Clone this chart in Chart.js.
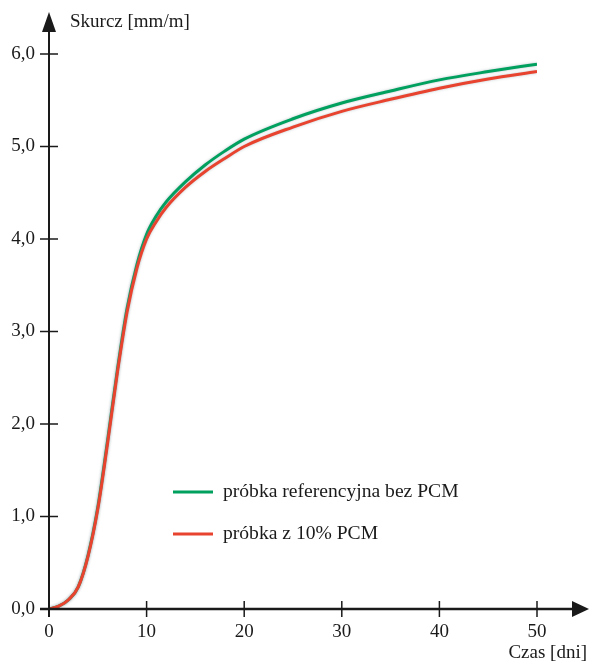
<!DOCTYPE html>
<html>
<head>
<meta charset="utf-8">
<script src="https://cdn.jsdelivr.net/npm/chart.js@4"></script>
<style>
    body { margin: 0; background: #ffffff; }
    #box { width: 592px; height: 670px; }
</style>
</head>
<body>
<div id="box"><canvas id="chart" width="592" height="670"></canvas></div>
<script>
// Data
const days = [0, 1, 2, 3, 4, 5, 6, 7, 8, 9, 10, 11, 12, 14, 16, 18, 20, 25, 30, 35, 40, 45, 50];
const refValues = [0, 0.03, 0.1, 0.24, 0.58, 1.1, 1.82, 2.58, 3.25, 3.72, 4.05, 4.25, 4.4, 4.62, 4.8, 4.95, 5.08, 5.3, 5.47, 5.6, 5.72, 5.81, 5.89];
const pcmValues = [0, 0.03, 0.1, 0.24, 0.57, 1.08, 1.79, 2.55, 3.21, 3.68, 4.0, 4.19, 4.34, 4.56, 4.73, 4.87, 5.0, 5.21, 5.38, 5.51, 5.63, 5.73, 5.81];
const seriesNames = ["próbka referencyjna bez PCM", "próbka z 10% PCM"];
const seriesColors = ["#00a05f", "#e8432e"];
const yTitle = "Skurcz [mm/m]";
const xTitle = "Czas [dni]";

const font = "Liberation Serif";

// Make xy pairs for the linear x scale
function toPoints(xs, ys) {
    return xs.map((x, i) => ({ x: x, y: ys[i] }));
}

// Axes, arrows, crossing ticks, titles and legend
const axesPlugin = {
    id: "axesPlugin",
    beforeDatasetsDraw(chart) {
        const ctx = chart.ctx;
        ctx.save();
        ctx.shadowColor = "rgba(110, 130, 140, 0.45)";
        ctx.shadowBlur = 3;
    },
    afterDatasetsDraw(chart) {
        chart.ctx.restore();
    },
    afterDraw(chart) {
        const ctx = chart.ctx;
        const xs = chart.scales.x;
        const ys = chart.scales.y;
        const x0 = xs.getPixelForValue(0);
        const y0 = ys.getPixelForValue(0);

        ctx.save();
        ctx.strokeStyle = "#1a1a1a";
        ctx.fillStyle = "#1a1a1a";

        // y axis
        ctx.lineWidth = 2;
        ctx.beginPath();
        ctx.moveTo(x0, y0 + 8);
        ctx.lineTo(x0, 30);
        ctx.stroke();
        ctx.beginPath();
        ctx.moveTo(x0, 12);
        ctx.lineTo(x0 - 7, 32);
        ctx.lineTo(x0 + 7, 32);
        ctx.closePath();
        ctx.fill();

        // x axis
        ctx.lineWidth = 2.5;
        ctx.beginPath();
        ctx.moveTo(x0 - 9, y0);
        ctx.lineTo(575, y0);
        ctx.stroke();
        ctx.beginPath();
        ctx.moveTo(589, y0);
        ctx.lineTo(572, y0 - 8);
        ctx.lineTo(572, y0 + 8);
        ctx.closePath();
        ctx.fill();

        // crossing ticks
        ctx.lineWidth = 1.5;
        ys.ticks.forEach((t) => {
            const p = ys.getPixelForValue(t.value);
            ctx.beginPath();
            ctx.moveTo(x0 - 9, p);
            ctx.lineTo(x0 + 9, p);
            ctx.stroke();
        });
        xs.ticks.forEach((t) => {
            const p = xs.getPixelForValue(t.value);
            ctx.beginPath();
            ctx.moveTo(p, y0 - 8);
            ctx.lineTo(p, y0 + 8);
            ctx.stroke();
        });

        // axis titles
        ctx.font = "19px '" + font + "'";
        ctx.textBaseline = "middle";
        ctx.textAlign = "left";
        ctx.fillText(yTitle, 70, 22);
        ctx.textAlign = "right";
        ctx.fillText(xTitle, 587, 653);

        // legend
        const rows = [492, 534];
        ctx.font = "19.6px '" + font + "'";
        ctx.textAlign = "left";
        seriesNames.forEach((name, i) => {
            ctx.strokeStyle = seriesColors[i];
            ctx.lineWidth = 3;
            ctx.beginPath();
            ctx.moveTo(173, rows[i]);
            ctx.lineTo(213, rows[i]);
            ctx.stroke();
            ctx.fillStyle = "#1a1a1a";
            ctx.fillText(name, 223, rows[i]);
        });
        ctx.restore();
    }
};

const chart = new Chart(document.getElementById("chart"), {
    type: "line",
    data: {
        datasets: [
            {
                label: seriesNames[0],
                data: toPoints(days, refValues),
                borderColor: seriesColors[0],
                borderWidth: 3,
                pointRadius: 0,
                cubicInterpolationMode: "monotone",
                order: 1
            },
            {
                label: seriesNames[1],
                data: toPoints(days, pcmValues),
                borderColor: seriesColors[1],
                borderWidth: 3,
                pointRadius: 0,
                cubicInterpolationMode: "monotone",
                order: 0
            }
        ]
    },
    options: {
        responsive: false,
        animation: false,
        layout: {
            padding: { top: 54, right: 55, bottom: 0, left: 0 }
        },
        plugins: {
            legend: { display: false },
            tooltip: { enabled: false }
        },
        scales: {
            x: {
                type: "linear",
                min: 0,
                max: 50,
                border: { display: false },
                grid: { display: false, drawTicks: false, tickLength: 0 },
                afterFit: (scale) => { scale.height = 61; },
                ticks: {
                    stepSize: 10,
                    padding: 12,
                    maxRotation: 0,
                    color: "#1a1a1a",
                    font: { family: font, size: 19 }
                }
            },
            y: {
                min: 0,
                max: 6,
                border: { display: false },
                grid: { display: false, drawTicks: false, tickLength: 0 },
                afterFit: (scale) => { scale.width = 49; },
                ticks: {
                    stepSize: 1,
                    padding: 14,
                    color: "#1a1a1a",
                    font: { family: font, size: 19 },
                    callback: (v) => v.toFixed(1).replace(".", ",")
                }
            }
        }
    },
    plugins: [axesPlugin]
});
</script>
</body>
</html>
